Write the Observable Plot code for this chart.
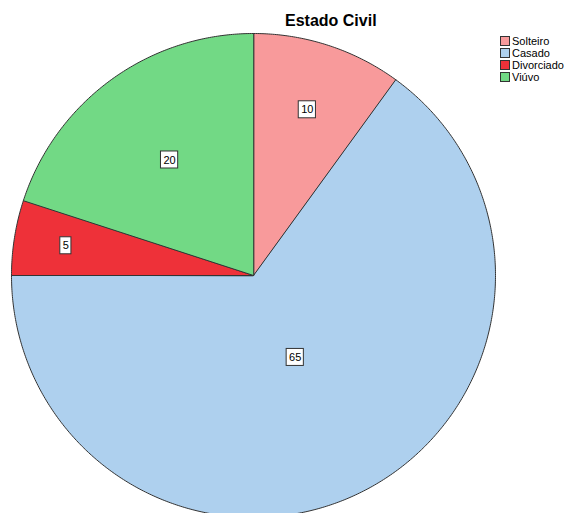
<!DOCTYPE html>
<html><head><meta charset="utf-8">
<script src="https://cdn.jsdelivr.net/npm/d3@7"></script>
<script src="https://cdn.jsdelivr.net/npm/@observablehq/plot@0.6"></script>
<style>
body{margin:0;background:#fff;font-family:"Liberation Sans",Arial,sans-serif;}
#wrap{position:relative;width:566px;height:513px;overflow:hidden;background:#fff;}
#title{height:17px;padding-top:13px;padding-left:285px;font-size:16px;font-weight:bold;line-height:16px;color:#000;}
#legend{position:absolute;left:500px;top:35px;font-size:11px;color:#000;}
.item{height:12px;display:flex;align-items:center;line-height:12px;}
.sw{width:10px;height:10px;border:1px solid #333;margin-right:2px;box-sizing:border-box;}
</style></head>
<body>
<div id="wrap">
  <div id="title">Estado Civil</div>
  <div id="chart"></div>
  <div id="legend"></div>
</div>
<script>
const categories = ["Solteiro", "Casado", "Divorciado", "Viúvo"];
const values = [10, 65, 5, 20];
const colors = ["#F89A9B", "#AED0EE", "#EE3139", "#72D985"];

const total = d3.sum(values);
const arcs = d3.pie().sort(null)(values);

const slices = arcs.map((a) => {
  const pts = [{x: 0, y: 0}];
  const n = Math.max(2, Math.ceil((a.endAngle - a.startAngle) / (Math.PI / 360)));
  for (let k = 0; k <= n; k++) {
    const t = a.startAngle + (a.endAngle - a.startAngle) * k / n;
    pts.push({x: Math.sin(t), y: Math.cos(t)});
  }
  return pts;
});

const R = 242;
const labels = arcs.map((a, i) => {
  const f = values[i] / total;
  const k = Math.max(0.38, 0.85 - 1.3 * f);
  const mid = (a.startAngle + a.endAngle) / 2;
  const x = k * Math.sin(mid), y = k * Math.cos(mid);
  const txt = String(values[i]);
  const w = (6.1 * txt.length + 5) / 2 / R;
  const h = 8.5 / R;
  return {x, y, text: txt, x1: x - w, x2: x + w, y1: y - h, y2: y + h};
});

const marks = slices.map((pts, i) => Plot.line(pts, {
  x: "x", y: "y", fill: colors[i], stroke: "#333", strokeWidth: 1, curve: "linear-closed"
}));
marks.push(Plot.rect(labels, {x1: "x1", x2: "x2", y1: "y1", y2: "y2", fill: "white", stroke: "#333", strokeWidth: 1}));
marks.push(Plot.text(labels, {x: "x", y: "y", text: "text", fontSize: 11, fill: "#000"}));

const chart = Plot.plot({
  width: 566, height: 483, margin: 0,
  x: {domain: [-1, 1], range: [11, 495], axis: null},
  y: {domain: [-1, 1], range: [487, 3], axis: null},
  style: {fontFamily: "'Liberation Sans', Arial, sans-serif", background: "transparent"},
  marks
});
document.getElementById("chart").appendChild(chart);

const legend = document.getElementById("legend");
categories.forEach((c, i) => {
  const it = document.createElement("div");
  it.className = "item";
  const sw = document.createElement("span");
  sw.className = "sw";
  sw.style.background = colors[i];
  const tx = document.createElement("span");
  tx.textContent = c;
  it.appendChild(sw); it.appendChild(tx);
  legend.appendChild(it);
});
</script>
</body></html>
